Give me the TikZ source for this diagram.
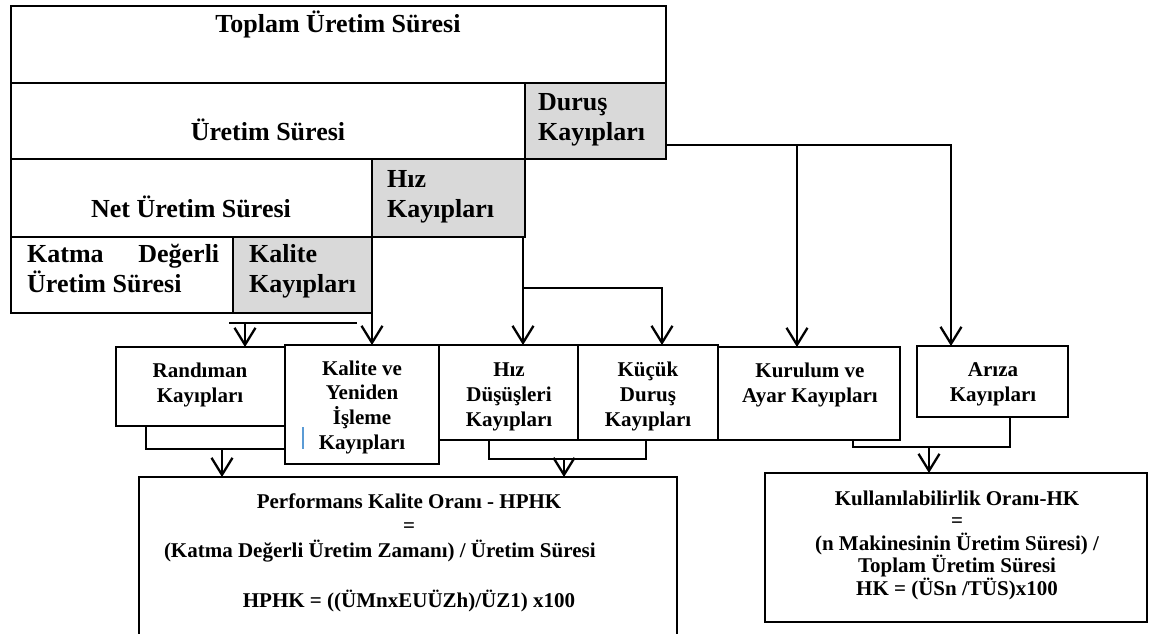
\documentclass[tikz,border=0pt]{standalone}
\usepackage{fontspec}
\setmainfont{Liberation Serif}
\usetikzlibrary{arrows.meta,calc}
\definecolor{lossgray}{RGB}{217,217,217}
\definecolor{markblue}{RGB}{91,155,213}

\begin{document}
\begin{tikzpicture}[x=1pt,y=-1pt,
  box/.style={draw, line width=2pt, inner sep=0pt, outer sep=0pt, anchor=north west},
  lossbox/.style={box, fill=lossgray},
  bigtxt/.style={inner sep=0pt, anchor=base, align=center, font=\fontsize{26}{30}\selectfont\bfseries},
  bigleft/.style={bigtxt, anchor=base west, align=left},
  smalltxt/.style={inner sep=0pt, anchor=base, align=center, font=\fontsize{21}{24.6}\selectfont\bfseries},
  conn/.style={line width=2.3pt, -{Straight Barb[length=17pt,width=21pt]}},
  feed/.style={line width=2pt},
]
\useasboundingbox (0,0) rectangle (1152,633);
\clip (0,0) rectangle (1152,633);

% ---- time breakdown (stacked bars) ----
\node[box, minimum width=655pt, minimum height=77pt] (top) at (11,6) {};
\node[box, minimum width=514pt, minimum height=76pt] (uretim) at (11,83) {};
\node[lossbox, minimum width=141pt, minimum height=76pt] (durus) at (525,83) {};
\node[box, minimum width=361pt, minimum height=78pt] (net) at (11,159) {};
\node[lossbox, minimum width=153pt, minimum height=78pt] (hiz) at (372,159) {};
\node[box, minimum width=222pt, minimum height=76pt] (katma) at (11,237) {};
\node[lossbox, minimum width=139pt, minimum height=76pt] (kalite) at (233,237) {};

% multi-line labels are placed by the baseline of their last line
\node[bigtxt] (tTop) at (338,32) {Toplam Üretim Süresi};
\node[bigtxt] (tUretim) at (268,140) {Üretim Süresi};
\node[bigleft] (tDurus) at (538,140) {Duruş\\Kayıpları};
\node[bigtxt] (tNet) at (191,217) {Net Üretim Süresi};
\node[bigleft] (tHiz) at (387,217) {Hız\\Kayıpları};
\node[bigleft] (tKatma) at (27,292) {\makebox[192pt]{Katma\hfill Değerli}\\Üretim Süresi};
\node[bigleft] (tKalite) at (249,292) {Kalite\\Kayıpları};

% ---- loss categories ----
\node[box, minimum width=169pt, minimum height=79pt] (randiman) at (116,347) {};
\node[box, minimum width=154pt, minimum height=119pt] (kyi) at (285,345) {};
\node[box, minimum width=139pt, minimum height=95pt] (hizd) at (439,345) {};
\node[box, minimum width=140pt, minimum height=95pt] (kucuk) at (578,345) {};
\node[box, minimum width=182pt, minimum height=93pt] (kurulum) at (718,347) {};
\node[box, minimum width=151pt, minimum height=71pt] (ariza) at (917,346) {};

\node[smalltxt] (tRand) at (200,402) {Randıman\\Kayıpları};
\node[smalltxt] (tKyi) at (362,449) {Kalite ve\\Yeniden\\İşleme\\Kayıpları};
\node[smalltxt] (tHizd) at (509,426) {Hız\\Düşüşleri\\Kayıpları};
\node[smalltxt] (tKucuk) at (648,426) {Küçük\\Duruş\\Kayıpları};
\node[smalltxt] (tKur) at (810,402) {Kurulum ve\\Ayar Kayıpları};
\node[smalltxt] (tAriza) at (993,401) {Arıza\\Kayıpları};
\draw[line width=1.3pt, markblue] ($(kyi.north west)+(18,82)$) -- ++(0,22);

% ---- ratio boxes ----
\node[box, minimum width=538pt, minimum height=175pt] (hphk) at (139,477) {};
\node[box, minimum width=382pt, minimum height=149pt] (hk) at (765,473) {};

\node[smalltxt] (tHPHK) at (409,607)
  {Performans Kalite Oranı - HPHK\\=\\\makebox[490pt][l]{(Katma Değerli Üretim Zamanı) / Üretim Süresi}\\[25pt]HPHK = ((ÜMnxEUÜZh)/ÜZ1) x100};
\node[smalltxt, font=\fontsize{21}{22.5}\selectfont\bfseries] (tHK) at (957,595)
  {Kullanılabilirlik Oranı-HK\\=\\(n Makinesinin Üretim Süresi) /\\Toplam Üretim Süresi\\HK = (ÜSn /TÜS)x100};

% ---- connectors ----
% stop losses
\coordinate (durusOut) at ([yshift=14pt]durus.south east);
\coordinate (toKur) at ([xshift=79pt]kurulum.north west);
\coordinate (toAriza) at ([xshift=34pt]ariza.north west);
\draw[conn] (durusOut) -| (toAriza);
\draw[conn] (toKur |- durusOut) -- (toKur);

% speed losses
\coordinate (toHizd) at ([xshift=84pt]hizd.north west);
\coordinate (toKucuk) at ([xshift=84pt]kucuk.north west);
\coordinate (hizSplit) at ($(hiz.south)+(0,51)$);
\draw[conn] (toHizd |- hiz.south) -- (toHizd);
\draw[conn] (toHizd |- hizSplit) -| (toKucuk);

% quality losses
\draw[conn] (kalite.south east) -- (kalite.south east |- kyi.north);
\coordinate (randL) at ($(katma.south east)+(-4,10)$);
\coordinate (randR) at ($(kalite.south east)+(-15,10)$);
\draw[feed] (randL) -- (randR);
\coordinate (toRand) at ([xshift=129pt]randiman.north west);
\draw[conn] (toRand |- randL) -- (toRand);

% groupings into the ratios
\coordinate (sumA) at ($(kyi.west |- randiman.south)+(0,23)$);
\draw[feed] ([xshift=30pt]randiman.south west) |- (sumA);
\coordinate (toHphkA) at ([xshift=83pt]hphk.north west);
\draw[conn] (toHphkA |- sumA) -- (toHphkA);

\coordinate (sumB) at ($(kucuk.south west)+(68,19)$);
\draw[feed] ([xshift=50pt]hizd.south west) |- (sumB) -- (sumB |- kucuk.south);
\coordinate (toHphkB) at ([xshift=425pt]hphk.north west);
\draw[conn] (toHphkB |- sumB) -- (toHphkB);

\coordinate (sumC) at ($(ariza.south west)+(93,30)$);
\draw[feed] ([xshift=135pt]kurulum.south west) |- (sumC) -- (sumC |- ariza.south);
\coordinate (toHk) at ([xshift=164pt]hk.north west);
\draw[conn] (toHk |- sumC) -- (toHk);
\end{tikzpicture}
\end{document}
